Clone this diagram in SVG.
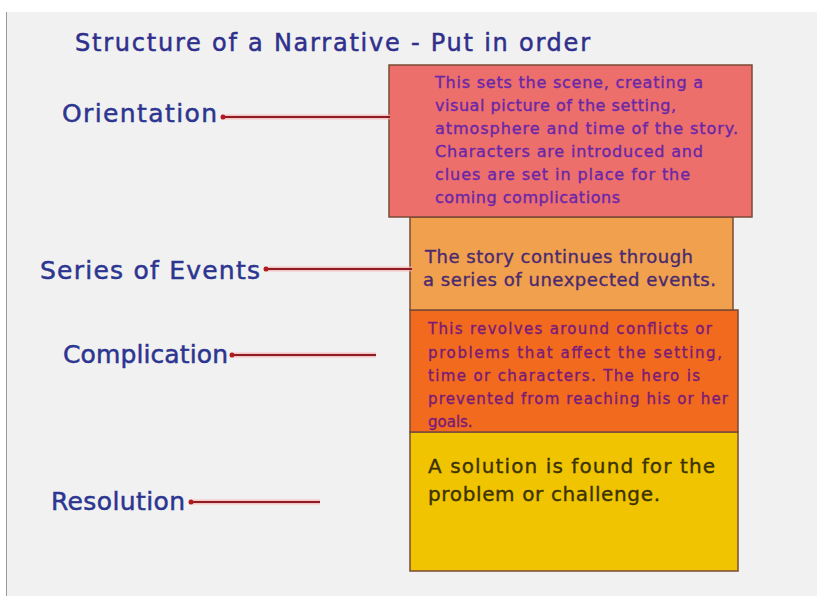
<svg xmlns="http://www.w3.org/2000/svg" width="817" height="596" viewBox="0 0 817 596">
  <style>
    .lbl { font-family: "DejaVu Sans", "Liberation Sans", sans-serif; fill: #2c3590; stroke: #2c3590; stroke-width: 0.5; font-size: 25px; }
    .title { font-family: "DejaVu Sans", "Liberation Sans", sans-serif; fill: #2f2f8c; stroke: #2f2f8c; stroke-width: 0.5; font-size: 24px; }
    .box { stroke: #7a4a36; stroke-width: 1.5; }
    .bt { font-family: "DejaVu Sans", "Liberation Sans", sans-serif; stroke-width: 0.35; }
    .glow { stroke: #f4b0b0; stroke-width: 5; fill: none; opacity: 0.7; }
    .ln { stroke: #8e1c22; stroke-width: 1.8; fill: none; }
    .dot { fill: #b01c20; }
  </style>
  <rect x="0" y="0" width="817" height="596" fill="#ffffff"/>
  <rect x="6" y="12" width="811" height="584" fill="#f1f1f1"/>
  <line x1="6.5" y1="12" x2="6.5" y2="596" stroke="#9a9a9a" stroke-width="1"/>

  <text class="title" x="75" y="51" textLength="515" lengthAdjust="spacing">Structure of a Narrative - Put in order</text>

  <g id="box-resolution">
    <rect class="box" x="410" y="432" width="328" height="139" fill="#f0c400"/>
    <text class="bt" font-size="20" fill="#3a3200" stroke="#3a3200"><tspan x="428" y="473" textLength="287" lengthAdjust="spacing">A solution is found for the</tspan><tspan x="428" y="501" textLength="232" lengthAdjust="spacing">problem or challenge.</tspan></text>
  </g>
  <g id="box-complication">
    <rect class="box" x="410" y="310" width="328" height="122" fill="#f26a1e"/>
    <text class="bt" font-size="15" fill="#7a1a78" stroke="#7a1a78"><tspan x="428" y="334" textLength="284" lengthAdjust="spacing">This revolves around conflicts or</tspan><tspan x="428" y="358" textLength="294" lengthAdjust="spacing">problems that affect the setting,</tspan><tspan x="428" y="381" textLength="272" lengthAdjust="spacing">time or characters. The hero is</tspan><tspan x="428" y="404" textLength="300" lengthAdjust="spacing">prevented from reaching his or her</tspan><tspan x="428" y="427">goals.</tspan></text>
  </g>
  <g id="box-series">
    <rect class="box" x="410" y="217" width="323" height="93" fill="#f1a04e"/>
    <text class="bt" font-size="18" fill="#4a2a6e" stroke="#4a2a6e"><tspan x="425" y="263" textLength="268" lengthAdjust="spacing">The story continues through</tspan><tspan x="423" y="286" textLength="293" lengthAdjust="spacing">a series of unexpected events.</tspan></text>
  </g>
  <g id="box-orientation">
    <rect class="box" x="389" y="65" width="363" height="152" fill="#ec6f6c"/>
    <text class="bt" font-size="16" fill="#6a26a8" stroke="#6a26a8"><tspan x="435" y="88" textLength="268" lengthAdjust="spacing">This sets the scene, creating a</tspan><tspan x="435" y="111" textLength="241" lengthAdjust="spacing">visual picture of the setting,</tspan><tspan x="435" y="134" textLength="303" lengthAdjust="spacing">atmosphere and time of the story.</tspan><tspan x="435" y="157" textLength="268" lengthAdjust="spacing">Characters are introduced and</tspan><tspan x="435" y="180" textLength="255" lengthAdjust="spacing">clues are set in place for the</tspan><tspan x="435" y="203" textLength="185" lengthAdjust="spacing">coming complications</tspan></text>
  </g>

  <g id="label-orientation"><text class="lbl" x="62" y="122" textLength="155" lengthAdjust="spacing">Orientation</text></g>
  <g id="label-series"><text class="lbl" x="40" y="279" textLength="220" lengthAdjust="spacing">Series of Events</text></g>
  <g id="label-complication"><text class="lbl" x="63" y="363" textLength="165" lengthAdjust="spacing">Complication</text></g>
  <g id="label-resolution"><text class="lbl" x="51" y="510" textLength="134" lengthAdjust="spacing">Resolution</text></g>

  <g id="connectors">
    <line class="glow" x1="221" y1="117" x2="390" y2="117"/>
    <line class="ln" x1="221" y1="117" x2="390" y2="117"/>
    <circle class="dot" cx="223" cy="117" r="2.5"/>
    <line class="glow" x1="264" y1="269" x2="412" y2="269"/>
    <line class="ln" x1="264" y1="269" x2="412" y2="269"/>
    <circle class="dot" cx="266" cy="269" r="2.5"/>
    <line class="glow" x1="230" y1="355" x2="376" y2="355"/>
    <line class="ln" x1="230" y1="355" x2="376" y2="355"/>
    <circle class="dot" cx="232" cy="355" r="2.5"/>
    <line class="glow" x1="189" y1="502" x2="320" y2="502"/>
    <line class="ln" x1="189" y1="502" x2="320" y2="502"/>
    <circle class="dot" cx="191" cy="502" r="2.5"/>
  </g>
</svg>
